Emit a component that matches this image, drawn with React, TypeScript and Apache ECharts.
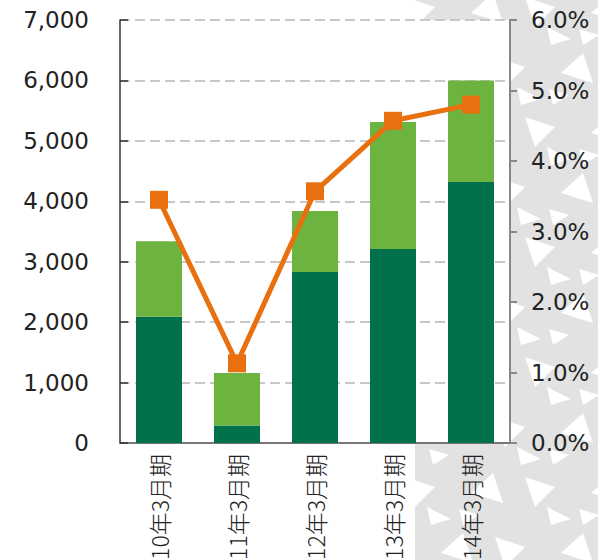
import React, { useEffect, useRef } from "react";
import * as echarts from "echarts";

const categories = ["2010年3月期", "2011年3月期", "2012年3月期", "2013年3月期", "2014年3月期"];
const darkValues = [2090, 290, 2830, 3210, 4320];
const lightValues = [1250, 870, 1010, 2100, 1680];
const rateValues = [3.45, 1.13, 3.57, 4.57, 4.8];

const DARK = "#00714a";
const LIGHT = "#6db33f";
const ORANGE = "#e8700e";

function buildPattern(): any[] {
  const els: any[] = [];
  els.push({
    type: "rect",
    z: -10,
    silent: true,
    shape: { x: 415, y: 0, width: 200, height: 560 },
    style: { fill: "#e1e2e1" },
  });
  const cell = 60;
  for (let i = 0; i < 4; i++) {
    for (let j = 0; j < 10; j++) {
      const ox = 415 + i * cell + (j % 2) * 30 - 20;
      const oy = j * cell - 15;
      const alt = (i + j) % 2 === 0;
      const pts = alt
        ? [[ox + 10, oy + 12], [ox + 40, oy + 22], [ox + 20, oy + 42]]
        : [[ox + 38, oy + 8], [ox + 48, oy + 38], [ox + 16, oy + 28]];
      els.push({
        type: "polygon",
        z: -9,
        silent: true,
        shape: { points: pts },
        style: { fill: "#ffffff" },
      });
      const pts2 = alt
        ? [[ox + 32, oy + 42], [ox + 56, oy + 54], [ox + 36, oy + 60]]
        : [[ox + 4, oy + 44], [ox + 24, oy + 50], [ox + 8, oy + 60]];
      els.push({
        type: "polygon",
        z: -9,
        silent: true,
        shape: { points: pts2 },
        style: { fill: "#ffffff" },
      });
    }
  }
  els.push({
    type: "rect",
    z: -8,
    silent: true,
    shape: { x: 120, y: 20, width: 390, height: 423 },
    style: { fill: "#ffffff" },
  });
  return els;
}

export default function App() {
  const ref = useRef<HTMLDivElement>(null);
  useEffect(() => {
    if (!ref.current) return;
    const chart = echarts.init(ref.current, undefined, { renderer: "svg" });
    const numFont = "DejaVu Sans";
    chart.setOption({
      animation: false,
      backgroundColor: "#ffffff",
      graphic: { elements: buildPattern() },
      grid: {
        left: 120,
        right: 88,
        top: 20,
        bottom: 117,
        containLabel: false,
        outerBoundsMode: "none",
      },
      xAxis: {
        type: "category",
        data: categories,
        axisLine: { show: true, lineStyle: { color: "#777", width: 2 } },
        axisTick: { show: false },
        axisLabel: {
          rotate: 90,
          margin: 11,
          fontSize: 23,
          color: "#222",
          fontFamily: "Noto Sans CJK JP",
          fontWeight: 300,
          interval: 0,
        },
      },
      yAxis: [
        {
          type: "value",
          min: 0,
          max: 7000,
          interval: 1000,
          position: "left",
          axisLine: { show: true, lineStyle: { color: "#333", width: 1.5 } },
          axisTick: { show: true, inside: true, length: 8, lineStyle: { color: "#333", width: 1.5 } },
          axisLabel: {
            margin: 31,
            fontSize: 23,
            color: "#222",
            fontFamily: numFont,
            formatter: (v: number) => v.toLocaleString("en-US"),
          },
          splitLine: { show: true, lineStyle: { color: "#c8c8c8", width: 2, type: [10, 5] } },
        },
        {
          type: "value",
          min: 0,
          max: 6,
          interval: 1,
          position: "right",
          axisLine: { show: true, lineStyle: { color: "#888", width: 2 } },
          axisTick: { show: true, inside: false, length: 7, lineStyle: { color: "#888", width: 2 } },
          axisLabel: {
            margin: 21,
            fontSize: 23,
            color: "#222",
            fontFamily: numFont,
            formatter: (v: number) => v.toFixed(1) + "%",
          },
          splitLine: { show: false },
        },
      ],
      series: [
        {
          type: "bar",
          stack: "total",
          data: darkValues,
          barWidth: 46,
          itemStyle: { color: DARK },
          yAxisIndex: 0,
          z: 2,
        },
        {
          type: "bar",
          stack: "total",
          data: lightValues,
          barWidth: 46,
          itemStyle: { color: LIGHT },
          yAxisIndex: 0,
          z: 2,
        },
        {
          type: "line",
          data: rateValues,
          yAxisIndex: 1,
          symbol: "rect",
          symbolSize: 18,
          lineStyle: { color: ORANGE, width: 5 },
          itemStyle: { color: ORANGE },
          z: 5,
        },
      ],
    });
    return () => chart.dispose();
  }, []);
  return (
    <div
      ref={ref}
      style={{ position: "absolute", left: 0, top: 0, width: 598, height: 560 }}
    />
  );
}
